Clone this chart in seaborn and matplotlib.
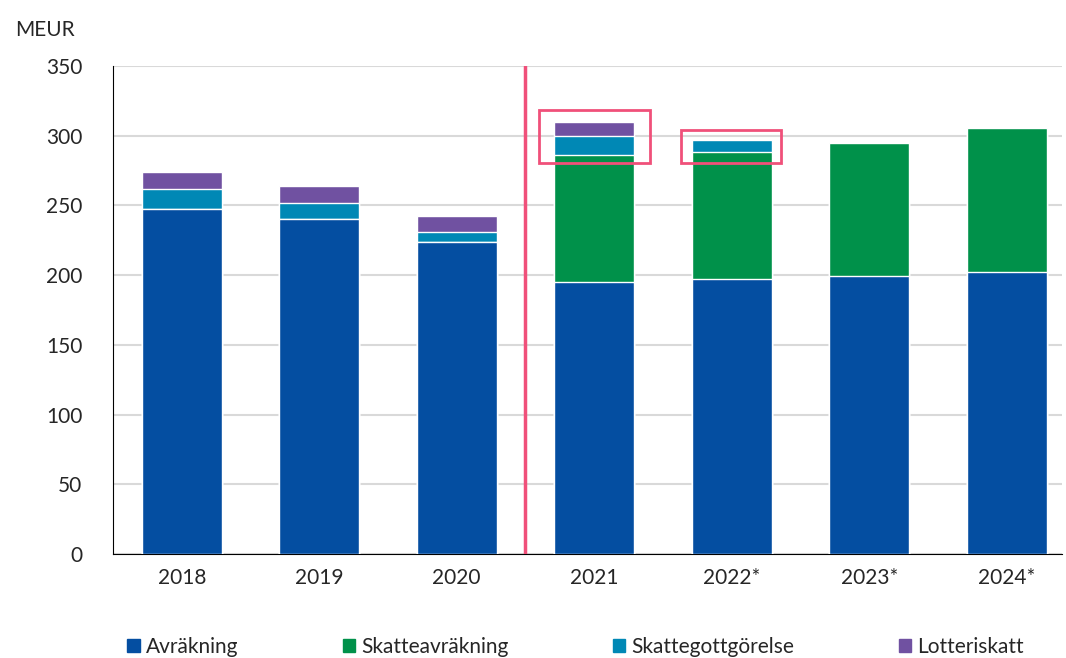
import numpy as np
import pandas as pd
import seaborn as sns
import matplotlib.pyplot as plt
from matplotlib.patches import Rectangle, Patch

years = ["2018", "2019", "2020", "2021", "2022*", "2023*", "2024*"]
avrakning = [247, 240, 224, 195, 197, 199, 202]
skatteavrakning = [0, 0, 0, 91, 91.5, 96, 103.5]
skattegottgorelse = [15, 11.5, 7, 13.5, 8, 0, 0]
lotteriskatt = [12, 12.5, 11.5, 10.5, 0, 0, 0]

names = ["Avräkning", "Skatteavräkning", "Skattegottgörelse", "Lotteriskatt"]
colors = ["#044ea1", "#00914a", "#0088b5", "#7051a1"]

sns.set_style("white")
plt.rcParams["font.family"] = ["Lato", "DejaVu Sans"]

df = pd.DataFrame({"year": years, "a": avrakning, "b": skatteavrakning,
                   "c": skattegottgorelse, "d": lotteriskatt})
layers = np.cumsum(df[["a", "b", "c", "d"]].values, axis=1)

fig = plt.figure(figsize=(10.66, 6.58), dpi=100)
ax = fig.add_axes([0.106, 0.158, 0.89, 0.742])

# draw cumulative totals from the top down so each layer covers the one below
for i in range(3, -1, -1):
    sns.barplot(x=df["year"], y=layers[:, i], color=colors[i], width=0.58,
                saturation=1, edgecolor="white", linewidth=1, ax=ax, zorder=3)

ax.set_ylim(0, 350)
ax.set_xlim(-0.5, 6.4)
ax.set_yticks(range(0, 351, 50))
ax.yaxis.grid(True, color="#d9d9d9", linewidth=1.5, zorder=0)
ax.set_axisbelow(True)
for s in ["top", "right"]:
    ax.spines[s].set_visible(False)
ax.spines["left"].set_color("black")
ax.spines["bottom"].set_color("black")
ax.set_xlabel("")
ax.set_ylabel("")
ax.tick_params(axis="both", labelsize=15, length=0, pad=10)
ax.tick_params(axis="y", pad=22)

pink = "#f0507a"
ax.axvline(2.5, color=pink, linewidth=2.5, zorder=4)
ax.add_patch(Rectangle((3 - 0.405, 280), 0.81, 38.5, fill=False,
                       edgecolor=pink, linewidth=2, zorder=5, clip_on=False))
ax.add_patch(Rectangle((4 - 0.37, 280), 0.73, 24, fill=False,
                       edgecolor=pink, linewidth=2, zorder=5, clip_on=False))

fig.text(0.014, 0.955, "MEUR", fontsize=15, ha="left", va="center")

handles = [Patch(color=c, label=n) for c, n in zip(colors, names)]
fig.legend(handles=handles, loc="center", bbox_to_anchor=(0.54, 0.017),
           ncol=4, frameon=False, fontsize=15, handlelength=0.6,
           handleheight=0.6, handletextpad=0.3, columnspacing=5.0)

fig.savefig("out.png", dpi=100)
